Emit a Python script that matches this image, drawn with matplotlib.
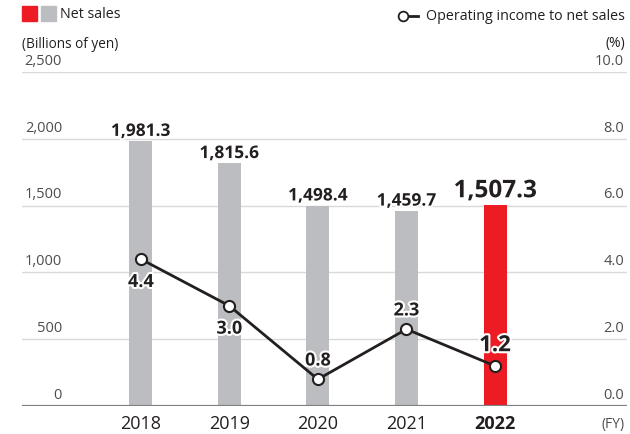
import matplotlib.pyplot as plt
from matplotlib.lines import Line2D
import matplotlib.patheffects as pe

plt.rcParams['font.family'] = ['Open Sans', 'DejaVu Sans']

years = ['2018', '2019', '2020', '2021', '2022']
net_sales = [1981.3, 1815.6, 1498.4, 1459.7, 1507.3]
op_margin = [4.4, 3.0, 0.8, 2.3, 1.2]
sales_labels = ['1,981.3', '1,815.6', '1,498.4', '1,459.7', '1,507.3']
margin_labels = ['4.4', '3.0', '0.8', '2.3', '1.2']
left_ticks = [0, 500, 1000, 1500, 2000, 2500]
left_tick_labels = ['0', '500', '1,000', '1,500', '2,000', '2,500']
right_tick_labels = ['0.0', '2.0', '4.0', '6.0', '8.0', '10.0']

RED = '#ED1C24'
GRAY = '#BCBDC1'
DARK = '#231F20'
TICK = '#4D4D4F'

fig = plt.figure(figsize=(6.3, 4.35), dpi=100)
ax = fig.add_axes([22/630, 28/435, 605/630, 334/435])
ax2 = ax.twinx()

x = list(range(len(years)))
colors = [GRAY] * 4 + [RED]

for v in left_ticks[1:]:
    ax.axhline(v, color='#D9D9D9', lw=1, zorder=0)
ax.axhline(0, color='#808080', lw=1.6, zorder=3)

ax.bar(x, net_sales, width=0.26, color=colors, zorder=2)

ax.set_xlim(-1.34, 5.49)
ax.set_ylim(0, 2500)
ax2.set_ylim(0, 10)

for a in (ax, ax2):
    for s in a.spines.values():
        s.set_visible(False)
    a.set_yticks([])
ax.set_xticks(x)
ax.set_xticklabels(years, fontsize=13, color=DARK)
ax.get_xticklabels()[-1].set_fontweight('bold')
ax.tick_params(axis='x', length=0, pad=6)

# y tick labels sitting above the gridlines
for v, lab, rlab in zip(left_ticks, left_tick_labels, right_tick_labels):
    ax.annotate(lab, (40/605, v), xycoords=('axes fraction', 'data'),
                xytext=(0, 3), textcoords='offset points',
                ha='right', va='bottom', fontsize=10.5, color=TICK)
    ax.annotate(rlab, (1.0, v), xycoords=('axes fraction', 'data'),
                xytext=(-2, 3), textcoords='offset points',
                ha='right', va='bottom', fontsize=10.5, color=TICK)

stroke = [pe.withStroke(linewidth=3, foreground='white')]

for i, (v, lab) in enumerate(zip(net_sales, sales_labels)):
    big = i == len(years) - 1
    ax.annotate(lab, (i, v), xytext=(0, 1), textcoords='offset points',
                ha='center', va='bottom', fontsize=17.5 if big else 12.5,
                fontweight='bold', color=DARK, zorder=5, path_effects=stroke)

ax2.plot(x, op_margin, color=DARK, lw=2, marker='o', markersize=8,
         markerfacecolor='white', markeredgecolor=DARK, markeredgewidth=1.5,
         zorder=4)

offsets = [-10, -10, 7, 7, 7]
for i, (v, lab, off) in enumerate(zip(op_margin, margin_labels, offsets)):
    big = i == len(years) - 1
    ax2.annotate(lab, (i, v), xytext=(0, off), textcoords='offset points',
                 ha='center', va='top' if off < 0 else 'bottom',
                 fontsize=16 if big else 13, fontweight='bold', color=DARK,
                 zorder=6, path_effects=stroke)

# header texts and legend
fig.patches.append(plt.Rectangle((22/630, 1 - 22/435), 15/630, 15/435,
                                 transform=fig.transFigure, color=RED))
fig.patches.append(plt.Rectangle((41/630, 1 - 22/435), 15/630, 15/435,
                                 transform=fig.transFigure, color=GRAY))
fig.text(60/630, 1 - 15/435, 'Net sales', fontsize=10.3, color=DARK, va='center')
fig.text(22/630, 1 - 44/435, '(Billions of yen)', fontsize=9.8, color=DARK, va='center')
fig.text(625/630, 1 - 44/435, '(%)', fontsize=10, color=DARK, va='center', ha='right')
fig.text(625/630, 1 - 17/435, 'Operating income to net sales', fontsize=10.3,
         color=DARK, va='center', ha='right')
fig.add_artist(Line2D([403/630, 418/630], [1 - 17/435] * 2, color=DARK, lw=2,
                      transform=fig.transFigure))
fig.add_artist(Line2D([403/630], [1 - 17/435], marker='o', markersize=7,
                      markerfacecolor='white', markeredgecolor=DARK,
                      markeredgewidth=1.3, transform=fig.transFigure))
fig.text(625/630, 1 - 425/435, '(FY)', fontsize=10, color=TICK, va='center', ha='right')

fig.savefig('out.png', dpi=100)
